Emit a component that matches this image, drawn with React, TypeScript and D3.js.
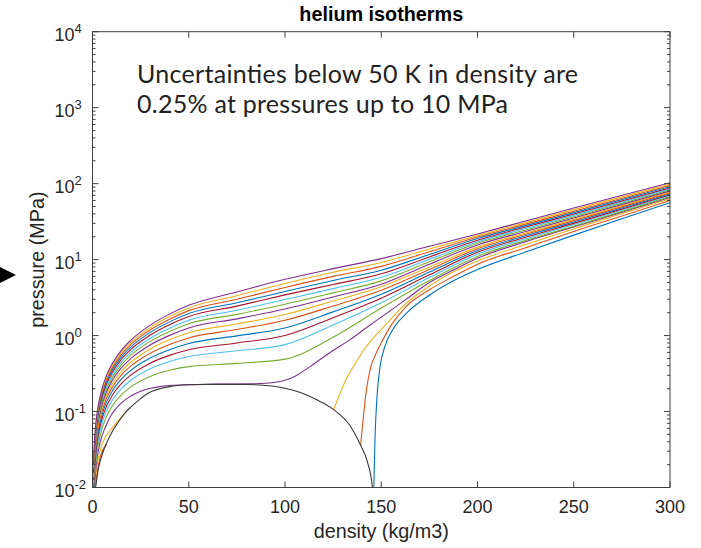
import React from 'react';
import * as d3 from 'd3';

const W = 701, H = 548;
const M = { left: 92.5, right: 670, top: 31.7, bottom: 487.5 };

const title = 'helium isotherms';
const xLabel = 'density (kg/m3)';
const yLabel = 'pressure (MPa)';
const noteLines = ['Uncertainties below 50 K in density are', '0.25% at pressures up to 10 MPa'];

const xTicks = [0, 50, 100, 150, 200, 250, 300];
const yExponents = [-2, -1, 0, 1, 2, 3, 4];

const palette = ['#0072BD', '#D95319', '#EDB120', '#7E2F8E', '#77AC30', '#4DBEEE', '#A2142F'];
const domeColor = '#3a3a3a';

// saturation dome
const domeRho = [1.6, 3, 5, 8, 10, 13, 17.5, 20, 25, 29, 35, 40, 50, 60, 70, 80, 90, 100, 108, 116, 125.3, 134, 139.3, 143, 145.3, 145.8];
const domeP = [0.01, 0.0175, 0.027, 0.042, 0.053, 0.07, 0.1, 0.115, 0.148, 0.175, 0.2, 0.213, 0.225, 0.228, 0.228, 0.227, 0.22, 0.203, 0.178, 0.145, 0.106, 0.064, 0.036, 0.021, 0.0105, 0.006];

// subcritical isotherms (T = 2 .. 5)
const t2Rho = [145.9, 146.3, 146.8, 147.8, 149.4, 152, 156, 163.4, 175, 187.5, 200, 225, 250, 275, 300];
const t2P = [0.005, 0.015, 0.047, 0.157, 0.39, 0.73, 1.2, 2.0, 3.4, 5.25, 7.4, 12.6, 21, 34.5, 56];

const t3GasRho = [1.5, 3, 4.5, 6, 7.3];
const t3GasP = [0.0102, 0.0195, 0.0275, 0.0335, 0.0372];
const t3LiqRho = [139.3, 140.4, 141.9, 144.5, 147, 150, 155, 162.5, 175, 187.5, 200, 225, 250, 275, 300];
const t3LiqP = [0.036, 0.07, 0.16, 0.38, 0.56, 0.8, 1.35, 2.35, 4.0, 6.0, 8.7, 14.3, 23.5, 37.5, 60];

const t4GasRho = [1.2, 2, 4, 6, 8, 10, 12, 14, 16, 17.5];
const t4GasP = [0.0101, 0.0165, 0.031, 0.0425, 0.052, 0.06, 0.0695, 0.079, 0.089, 0.1];
const t4LiqRho = [125.3, 128, 132.5, 137, 141, 145, 150, 162.5, 175, 187.5, 200, 225, 250, 275, 300];
const t4LiqP = [0.106, 0.16, 0.29, 0.45, 0.65, 0.88, 1.2, 2.6, 4.5, 6.9, 9.6, 15.8, 25.3, 40.5, 63];

const t5Rho = [1, 2, 4, 7, 10, 15, 20, 25, 30, 35, 40, 50, 60, 70, 80, 90, 100, 105, 113, 123.4, 133.8, 141, 150, 162.5, 175, 187.5, 200, 225, 250, 275, 300];
const t5P = [0.0105, 0.0206, 0.0395, 0.065, 0.092, 0.13, 0.16, 0.185, 0.202, 0.213, 0.22, 0.226, 0.229, 0.23, 0.231, 0.236, 0.258, 0.29, 0.39, 0.6, 0.885, 1.2, 1.75, 2.95, 5.0, 7.3, 10.4, 17.2, 26.8, 42, 65.5];

// supercritical isotherms (T = 6 .. 19) on a common density grid
const gridRho = [0.5, 1, 2, 3, 5, 7, 10, 15, 20, 30, 40, 50, 75, 100, 125, 150, 175, 200, 225, 250, 300];
const p6 = [0.0062, 0.01237, 0.02455, 0.03654, 0.05997, 0.08265, 0.1153, 0.1659, 0.2119, 0.2899, 0.3493, 0.39, 0.43, 0.49, 0.95, 2.3, 5.3, 11.0, 17.9, 27.5, 67.5];
const p7 = [0.00725, 0.01446, 0.02876, 0.04291, 0.07073, 0.0979, 0.1375, 0.2004, 0.2593, 0.3653, 0.4555, 0.53, 0.63, 0.76, 1.38, 2.7, 5.8, 11.8, 18.8, 28.8, 69.5];
const p8 = [0.00829, 0.01654, 0.03294, 0.0492, 0.08127, 0.11276, 0.1589, 0.2329, 0.3033, 0.4333, 0.5487, 0.65, 0.8, 1.0, 1.72, 3.1, 6.3, 12.5, 19.7, 30.0, 71.5];
const p9 = [0.00933, 0.01863, 0.03715, 0.05554, 0.09197, 0.12792, 0.18095, 0.26694, 0.34993, 0.50696, 0.652, 0.785, 0.99, 1.26, 2.05, 3.5, 6.85, 13.2, 20.6, 31.3, 73.5];
const p10 = [0.01037, 0.02073, 0.04137, 0.06192, 0.10277, 0.14327, 0.20338, 0.30183, 0.39812, 0.58422, 0.76168, 0.93, 1.2, 1.59, 2.45, 3.95, 7.4, 13.9, 21.5, 32.6, 75.7];
const p11 = [0.01142, 0.02283, 0.04561, 0.06835, 0.11371, 0.1589, 0.22637, 0.33797, 0.44853, 0.6665, 0.88025, 1.09, 1.42, 1.89, 2.85, 4.4, 8.0, 14.6, 22.4, 33.9, 78];
const p12 = [0.01246, 0.02493, 0.04986, 0.07479, 0.12476, 0.17474, 0.24979, 0.37509, 0.50067, 0.75265, 1.00573, 1.26, 1.66, 2.24, 3.22, 4.75, 8.7, 15.6, 23.5, 35.3, 80.3];
const p13 = [0.01351, 0.02703, 0.05413, 0.08129, 0.1358, 0.19057, 0.27319, 0.41219, 0.55276, 0.8387, 1.13102, 1.43, 1.9, 2.58, 3.65, 5.25, 9.35, 16.4, 24.5, 36.7, 82.8];
const p14 = [0.01455, 0.02913, 0.05837, 0.08773, 0.14676, 0.20622, 0.29625, 0.44847, 0.60343, 0.92154, 1.25059, 1.59, 2.15, 2.98, 4.15, 5.85, 10.1, 17.2, 25.6, 38.2, 85.4];
const p15 = [0.0156, 0.03124, 0.06267, 0.09427, 0.15801, 0.22245, 0.32046, 0.48738, 0.65874, 1.01484, 1.38877, 1.78, 2.44, 3.43, 4.7, 6.5, 10.85, 18.0, 26.8, 39.8, 88.2];
const p16 = [0.01665, 0.03335, 0.06692, 0.10074, 0.16905, 0.23829, 0.34389, 0.5245, 0.7109, 1.10104, 1.51432, 1.95, 2.7, 3.8, 5.32, 7.25, 11.7, 18.9, 28.0, 41.5, 91.2];
const p17 = [0.01769, 0.03546, 0.0712, 0.10724, 0.18019, 0.25429, 0.36764, 0.56237, 0.76437, 1.1902, 1.64512, 2.13, 3.0, 4.3, 6.02, 8.15, 12.7, 19.8, 29.3, 43.4, 94.5];
const p18 = [0.01874, 0.03756, 0.07548, 0.11375, 0.19134, 0.27035, 0.39151, 0.60049, 0.81831, 1.2804, 1.77778, 2.31, 3.35, 4.85, 6.82, 9.15, 13.8, 20.7, 30.7, 45.5, 98.5];
const p19 = [0.01978, 0.03967, 0.07977, 0.12029, 0.20259, 0.28657, 0.4157, 0.63936, 0.87355, 1.37355, 1.91569, 2.5, 3.75, 5.5, 7.6, 10.3, 14.95, 21.7, 32.2, 47.7, 103];

const superP = [p6, p7, p8, p9, p10, p11, p12, p13, p14, p15, p16, p17, p18, p19];

type Seg = [number, number][];
const zip = (a: number[], b: number[]): Seg => a.map((v, i) => [v, b[i]]);

const isotherms: Seg[][] = [
  [zip(t2Rho, t2P)],
  [zip(t3GasRho, t3GasP), zip(t3LiqRho, t3LiqP)],
  [zip(t4GasRho, t4GasP), zip(t4LiqRho, t4LiqP)],
  [zip(t5Rho, t5P)],
  ...superP.map((p) => [zip(gridRho, p)]),
];

const FONT = '"Liberation Sans", Arial, Helvetica, sans-serif';
const AX = '#404040';

export default function App() {
  const x = d3.scaleLinear().domain([0, 300]).range([M.left, M.right]);
  const y = d3.scaleLog().domain([1e-2, 1e4]).range([M.bottom, M.top]);
  const line = d3
    .line<[number, number]>()
    .x((d) => x(d[0]))
    .y((d) => y(d[1]))
    .curve(d3.curveMonotoneX);

  const minor: number[] = [];
  for (let e = -2; e < 4; e++) for (let m = 2; m <= 9; m++) minor.push(m * Math.pow(10, e));

  const cx = (M.left + M.right) / 2;
  const cy = (M.top + M.bottom) / 2;

  return (
    <svg width={W} height={H} style={{ position: 'absolute', left: 0, top: 0, background: '#fff' }} fontFamily={FONT}>
      <rect x={0} y={0} width={W} height={H} fill="#fff" />
      <defs>
        <clipPath id="plot">
          <rect x={M.left} y={M.top} width={M.right - M.left} height={M.bottom - M.top} />
        </clipPath>
      </defs>

      <g clipPath="url(#plot)" fill="none" strokeWidth={1.1}>
        {isotherms.map((segs, i) =>
          segs.map((s, j) => <path key={`${i}-${j}`} d={line(s) || ''} stroke={palette[i % 7]} />)
        )}
        <path d={line(zip(domeRho, domeP)) || ''} stroke={domeColor} />
      </g>

      {/* box */}
      <rect x={M.left} y={M.top} width={M.right - M.left} height={M.bottom - M.top} fill="none" stroke={AX} strokeWidth={1} />

      {/* x ticks */}
      {xTicks.map((t) => (
        <g key={`xt${t}`}>
          <line x1={x(t)} x2={x(t)} y1={M.bottom} y2={M.bottom - 6} stroke={AX} />
          <line x1={x(t)} x2={x(t)} y1={M.top} y2={M.top + 6} stroke={AX} />
          <text x={x(t)} y={513} textAnchor="middle" fontSize={18} fill="#262626">
            {t}
          </text>
        </g>
      ))}

      {/* y ticks */}
      {yExponents.map((e) => {
        const yy = y(Math.pow(10, e));
        return (
          <g key={`yt${e}`}>
            <line x1={M.left} x2={M.left + 6} y1={yy} y2={yy} stroke={AX} />
            <line x1={M.right} x2={M.right - 6} y1={yy} y2={yy} stroke={AX} />
            <text x={74.5} y={yy + 9} textAnchor="end" fontSize={18} fill="#262626">
              10
            </text>
            <text x={74.5} y={yy + 1.5} textAnchor="start" fontSize={13} fill="#262626">
              {e < 0 ? `-${-e}` : `${e}`}
            </text>
          </g>
        );
      })}
      {minor.map((v) => (
        <g key={`mn${v}`}>
          <line x1={M.left} x2={M.left + 3} y1={y(v)} y2={y(v)} stroke={AX} />
          <line x1={M.right} x2={M.right - 3} y1={y(v)} y2={y(v)} stroke={AX} />
        </g>
      ))}

      {/* titles */}
      <text x={cx} y={21} textAnchor="middle" fontSize={19.8} fontWeight="bold" fill="#000">
        {title}
      </text>
      <text x={cx} y={538} textAnchor="middle" fontSize={19.8} fill="#262626">
        {xLabel}
      </text>
      <text transform={`translate(44,${cy}) rotate(-90)`} textAnchor="middle" fontSize={19.8} fill="#262626">
        {yLabel}
      </text>

      {/* annotation */}
      <g fontFamily="Lato, 'Open Sans', sans-serif" fontSize={25} fill="#222">
        <text x={137} y={82.5} textLength={441} lengthAdjust="spacing">{noteLines[0]}</text>
        <text x={137} y={113} textLength={371} lengthAdjust="spacing">{noteLines[1]}</text>
      </g>

      {/* arrow marker */}
      <polygon points="0,267 16,275 0,283" fill="#000" />
    </svg>
  );
}
